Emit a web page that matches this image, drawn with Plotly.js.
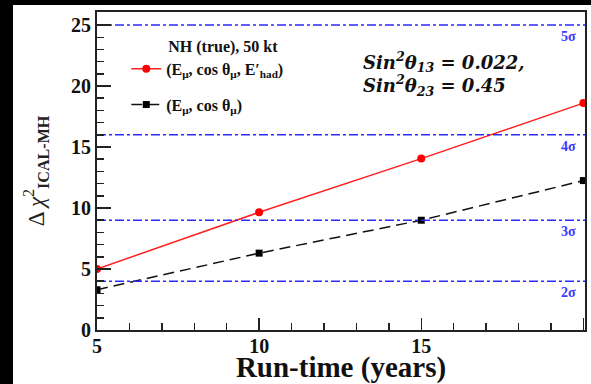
<!DOCTYPE html>
<html>
<head>
<meta charset="utf-8">
<script src="https://cdn.plot.ly/plotly-3.0.1.min.js"></script>
<style>
html,body{margin:0;padding:0;background:#000;width:591px;height:384px;overflow:hidden;}
#plot{position:absolute;left:13px;top:5px;width:578px;height:379px;background:#fff;}
</style>
</head>
<body>
<div id="plot"></div>
<script>
// Data
const runTime = [5, 10, 15, 20];
const chi2WithHad = [5.0, 9.65, 14.05, 18.6];
const chi2NoHad = [3.3, 6.3, 9.0, 12.25];
const sigmaLevels = [4, 9, 16, 25];
const sigmaLabels = ['2σ', '3σ', '4σ', '5σ'];
const xRange = [5, 20.05];
const yRange = [0, 26.07];

const serif = '"Liberation Serif", "Times New Roman", Times, serif';
const mathSerif = '"DejaVu Serif", serif';

// sigma reference lines (on an overlay subplot that carries the inside tick marks)
const traces = sigmaLevels.map(v => ({
  x: xRange, y: [v, v], xaxis: 'x2', yaxis: 'y2',
  type: 'scatter', mode: 'lines', showlegend: false, hoverinfo: 'skip',
  line: {color: '#2a2aff', width: 1.5, dash: 'dashdot'}
}));

traces.push({
  x: runTime, y: chi2WithHad, type: 'scatter', mode: 'lines+markers',
  name: '<b>(E<sub>μ</sub>, cos θ<sub>μ</sub>, E\u2032<sub>had</sub>)</b>',
  legendgroup: 'a',
  line: {color: '#ff2020', width: 1.5},
  marker: {color: '#ff0000', size: 8, symbol: 'circle'}
});
traces.push({
  x: runTime, y: chi2NoHad, type: 'scatter', mode: 'lines+markers',
  name: '<b>(E<sub>μ</sub>, cos θ<sub>μ</sub>)</b>',
  legendgroup: 'b',
  line: {color: '#111', width: 1.5, dash: '11px,6px'},
  marker: {color: '#000', size: 7, symbol: 'square'}
});

const annotations = sigmaLevels.map((v, i) => ({
  x: 19.55, y: v, xref: 'x', yref: 'y', text: '<b>' + sigmaLabels[i] + '</b>',
  showarrow: false, yanchor: 'top', xanchor: 'center', yshift: -2,
  font: {family: serif, size: 14, color: '#3a3aff'}
}));

annotations.push({
  xref: 'paper', yref: 'paper', x: 0.54, y: 0.89, xanchor: 'left', yanchor: 'top',
  align: 'left', showarrow: false,
  text: '<b><i>Sin<sup>2</sup>θ<sub>13</sub> = 0.022,</i></b><br><b><i>Sin<sup>2</sup>θ<sub>23</sub> = 0.45</i></b>',
  font: {family: mathSerif, size: 18, color: '#111'}
});

const tickAxis = (range, t0, len) => ({
  range: range, tickmode: 'linear', tick0: t0, dtick: 5,
  ticks: 'inside', ticklen: len, tickwidth: 1.5, tickcolor: '#222',
  minor: {dtick: 1, ticks: 'inside', ticklen: 7, tickwidth: 1.2, tickcolor: '#222'},
  showticklabels: false, showgrid: false, zeroline: false, showline: false
});

const layout = {
  width: 578, height: 379,
  margin: {l: 84, r: 6, t: 7, b: 54},
  font: {family: serif, color: '#111'},
  showlegend: true,
  legend: {
    x: 0.06, y: 0.94, xanchor: 'left', yanchor: 'top',
    traceorder: 'grouped', tracegroupgap: 12,
    font: {family: serif, size: 16, color: '#111'},
    title: {text: '\u00a0\u00a0\u00a0\u00a0\u00a0\u00a0\u00a0\u00a0\u00a0\u00a0<b>NH (true), 50 kt</b>', side: 'top', font: {family: serif, size: 16, color: '#111'}}
  },
  xaxis: {
    range: xRange, tickmode: 'linear', tick0: 5, dtick: 5,
    ticks: 'inside', ticklen: 12, tickwidth: 1.5, tickcolor: '#222',
    minor: {dtick: 1, ticks: 'inside', ticklen: 7},
    showgrid: false, zeroline: false,
    showline: true, linecolor: '#222', linewidth: 2, mirror: true,
    ticklabelstandoff: -3,
    tickfont: {family: serif, size: 20, color: '#111', weight: 'bold'},
    title: {text: '<b>Run-time (years)</b>', font: {family: serif, size: 29, color: '#111'}, standoff: 0}
  },
  yaxis: {
    range: yRange, tickmode: 'linear', tick0: 0, dtick: 5,
    ticks: 'inside', ticklen: 14, tickwidth: 1.5, tickcolor: '#222',
    minor: {dtick: 1, ticks: 'inside', ticklen: 7},
    showgrid: false, zeroline: false,
    showline: true, linecolor: '#222', linewidth: 2, mirror: true,
    tickfont: {family: serif, size: 20, color: '#111', weight: 'bold'},
    title: {text: 'Δ <i>χ</i><sup>2</sup><sub><b>ICAL-MH</b></sub>', font: {family: serif, size: 23, color: '#222'}, standoff: 20}
  },
  xaxis2: Object.assign(tickAxis(xRange, 5, 12), {overlaying: 'x', anchor: 'y2', side: 'bottom'}),
  yaxis2: Object.assign(tickAxis(yRange, 0, 14), {overlaying: 'y', anchor: 'x2', side: 'left'}),
  annotations: annotations
};

Plotly.newPlot('plot', traces, layout, {displayModeBar: false, staticPlot: true});
</script>
</body>
</html>
